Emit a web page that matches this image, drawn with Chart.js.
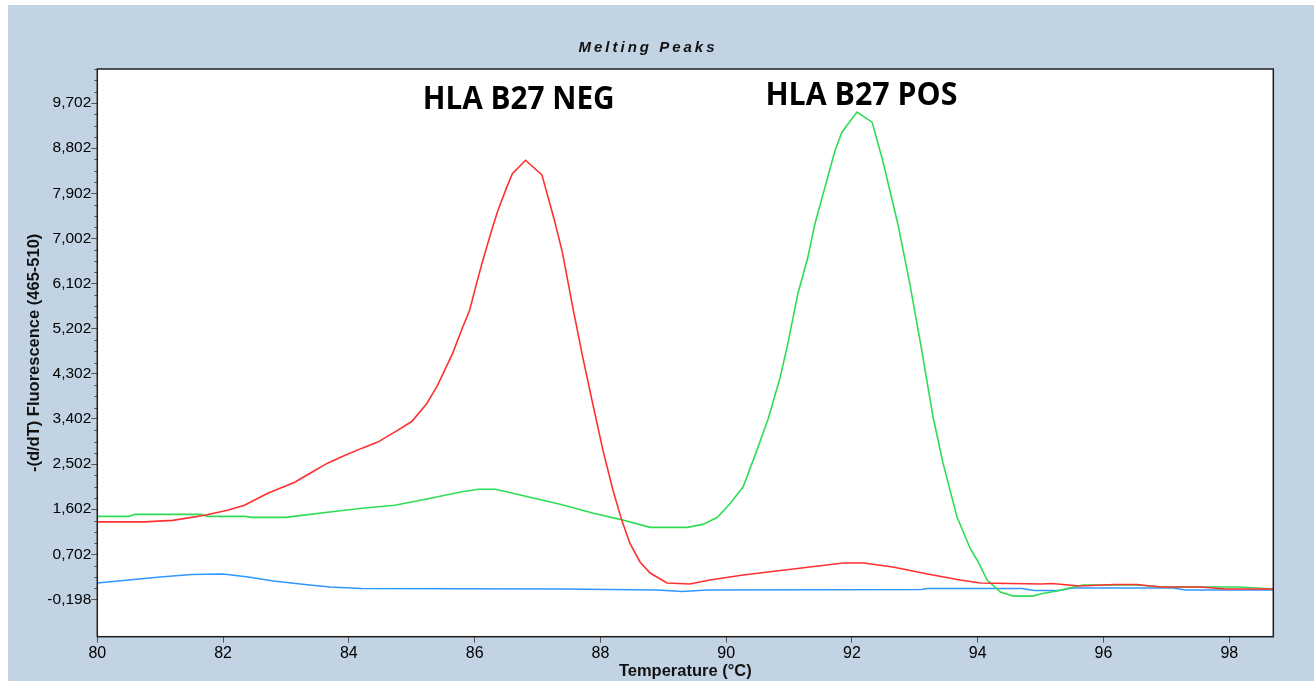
<!DOCTYPE html>
<html>
<head>
<meta charset="utf-8">
<script src="https://cdn.jsdelivr.net/npm/chart.js@4.4.1/dist/chart.umd.min.js"></script>
<style>
  html, body { margin: 0; padding: 0; background: #fff; }
  #panel { position: absolute; left: 8px; top: 5px; width: 1306px; height: 676px; background: #c2d4e4; }
  #wrap { position: absolute; left: 0; top: 0; width: 1314px; height: 681px; }
</style>
</head>
<body>
<div id="panel"></div>
<div id="wrap"><canvas id="myChart" width="1314" height="681"></canvas></div>
<script>
// melting curves (temperature in °C, -(d/dT) fluorescence)
const redTemps = [80.0, 80.75, 81.2, 81.71, 82.07, 82.34, 82.71, 83.14, 83.41, 83.66, 83.94, 84.21, 84.46, 84.78, 85.0, 85.24, 85.41, 85.65, 85.81, 85.92, 86.03, 86.13, 86.27, 86.37, 86.51, 86.6, 86.81, 87.07, 87.27, 87.4, 87.56, 87.72, 87.86, 88.04, 88.2, 88.34, 88.47, 88.63, 88.79, 89.06, 89.42, 89.74, 90.27, 90.8, 91.33, 91.86, 92.18, 92.65, 93.2, 93.72, 94.04, 95.0, 95.18, 95.62, 96.18, 96.53, 96.9, 97.54, 97.94, 98.7];
const redValues = [1.35, 1.35, 1.38, 1.48, 1.58, 1.68, 1.92, 2.14, 2.34, 2.52, 2.68, 2.82, 2.94, 3.18, 3.35, 3.71, 4.07, 4.71, 5.23, 5.57, 6.10, 6.56, 7.16, 7.56, 8.02, 8.29, 8.56, 8.27, 7.36, 6.70, 5.63, 4.63, 3.81, 2.78, 1.98, 1.38, 0.92, 0.55, 0.33, 0.13, 0.11, 0.19, 0.29, 0.37, 0.45, 0.53, 0.53, 0.45, 0.31, 0.19, 0.13, 0.11, 0.12, 0.07, 0.10, 0.10, 0.05, 0.05, 0.01, 0.01];

const greenTemps = [80.0, 80.5, 80.6, 81.65, 81.75, 82.35, 82.45, 83.0, 83.25, 83.66, 84.21, 84.73, 85.26, 85.8, 86.06, 86.33, 86.88, 87.36, 87.89, 88.31, 88.79, 89.38, 89.63, 89.86, 90.06, 90.27, 90.46, 90.67, 90.86, 90.98, 91.14, 91.3, 91.41, 91.57, 91.73, 91.84, 92.08, 92.32, 92.49, 92.73, 92.92, 93.11, 93.29, 93.45, 93.67, 93.88, 93.99, 94.15, 94.36, 94.57, 94.87, 95.03, 95.26, 95.42, 95.67, 96.53, 96.74, 97.0, 98.14, 98.7];
const greenValues = [1.46, 1.46, 1.50, 1.50, 1.46, 1.46, 1.44, 1.44, 1.48, 1.54, 1.62, 1.68, 1.81, 1.95, 2.00, 2.00, 1.84, 1.70, 1.52, 1.40, 1.24, 1.24, 1.30, 1.44, 1.71, 2.05, 2.68, 3.41, 4.24, 4.90, 5.90, 6.63, 7.29, 8.02, 8.75, 9.12, 9.52, 9.32, 8.55, 7.29, 6.10, 4.77, 3.44, 2.51, 1.45, 0.82, 0.59, 0.19, -0.05, -0.13, -0.13, -0.08, -0.03, 0.02, 0.09, 0.09, 0.07, 0.05, 0.05, 0.01];

const blueTemps = [80.0, 80.5, 81.0, 81.5, 82.0, 82.4, 82.8, 83.3, 83.7, 84.2, 87.4, 88.9, 89.3, 89.7, 93.1, 93.2, 94.7, 94.9, 95.3, 95.5, 97.1, 97.3, 98.7];
const blueValues = [0.13, 0.19, 0.25, 0.30, 0.31, 0.25, 0.17, 0.10, 0.05, 0.02, 0.01, -0.01, -0.04, -0.01, 0.0, 0.02, 0.02, -0.02, -0.02, 0.03, 0.03, -0.01, -0.01];

const xTickValues = [80, 82, 84, 86, 88, 90, 92, 94, 96, 98];
const yTickValues = [-0.198, 0.702, 1.602, 2.502, 3.402, 4.302, 5.202, 6.102, 7.002, 7.902, 8.802, 9.702];

const annotationLabels = ["HLA B27 NEG", "HLA B27 POS"];
const annotationTemps = [86.70, 92.15];
const annotationValues = [9.58, 9.66];

const fontFamily = "'Liberation Sans', Arial, sans-serif";

function toPoints(temps, values) {
  return temps.map((t, i) => ({ x: t, y: values[i] }));
}

const framePlugin = {
  id: "frame",
  beforeDraw(chart) {
    const { ctx, chartArea: a } = chart;
    ctx.save();
    ctx.fillStyle = "#ffffff";
    ctx.fillRect(a.left, a.top, a.right - a.left, a.bottom - a.top);
    ctx.restore();
  },
  afterDraw(chart) {
    const { ctx, chartArea: a, scales } = chart;
    ctx.save();

    // minor ticks on the y axis, 3 between each labelled tick
    ctx.strokeStyle = "#555";
    ctx.lineWidth = 1;
    const step = (yTickValues[1] - yTickValues[0]) / 4;
    for (let i = 1; yTickValues[0] + i * step < scales.y.max; i++) {
      if (i % 4 === 0) continue;
      const py = Math.round(scales.y.getPixelForValue(yTickValues[0] + i * step)) + 0.5;
      ctx.beginPath();
      ctx.moveTo(a.left - 3, py);
      ctx.lineTo(a.left, py);
      ctx.stroke();
    }

    // plot frame
    ctx.strokeStyle = "#1e1e1e";
    ctx.lineWidth = 1.5;
    ctx.strokeRect(a.left, a.top, a.right - a.left, a.bottom - a.top);

    // header
    ctx.fillStyle = "#111";
    ctx.font = "italic bold 15px " + fontFamily;
    ctx.letterSpacing = "3px";
    ctx.textAlign = "center";
    ctx.textBaseline = "middle";
    ctx.fillText("Melting Peaks", 648, 48);
    ctx.letterSpacing = "0px";

    // peak labels
    ctx.fillStyle = "#000";
    ctx.font = "bold 33px 'Open Sans', sans-serif";
    ctx.textBaseline = "alphabetic";
    annotationLabels.forEach((label, i) => {
      const px = scales.x.getPixelForValue(annotationTemps[i]);
      const py = scales.y.getPixelForValue(annotationValues[i]);
      const w = ctx.measureText(label).width;
      ctx.save();
      ctx.translate(px, py);
      ctx.scale(192 / w, 1);
      ctx.fillText(label, 0, 0);
      ctx.restore();
    });

    ctx.restore();
  },
};

const ctx = document.getElementById("myChart").getContext("2d");
new Chart(ctx, {
  type: "line",
  data: {
    datasets: [
      {
        label: "HLA B27 NEG",
        data: toPoints(redTemps, redValues),
        borderColor: "#ff3030",
        borderWidth: 1.6,
      },
      {
        label: "HLA B27 POS",
        data: toPoints(greenTemps, greenValues),
        borderColor: "#2fdc55",
        borderWidth: 1.6,
      },
      {
        label: "Blank",
        data: toPoints(blueTemps, blueValues),
        borderColor: "#2f97ff",
        borderWidth: 1.6,
      },
    ],
  },
  options: {
    responsive: false,
    animation: false,
    elements: { point: { radius: 0 }, line: { tension: 0, fill: false } },
    layout: { padding: { top: 69, right: 40.7, bottom: 0, left: 0 } },
    plugins: { legend: { display: false }, tooltip: { enabled: false }, title: { display: false } },
    scales: {
      x: {
        type: "linear",
        min: 80,
        max: 98.7,
        afterBuildTicks: (s) => { s.ticks = xTickValues.map((v) => ({ value: v })); },
        afterFit: (s) => { s.height = 44.3; },
        grid: { drawOnChartArea: false, drawTicks: true, tickLength: 6, tickColor: "#555", tickWidth: 1 },
        border: { display: false },
        ticks: {
          color: "#000",
          font: { family: fontFamily, size: 16 },
          padding: 1,
          maxRotation: 0,
          autoSkip: false,
          callback: (v) => String(v),
        },
        title: {
          display: true,
          text: "Temperature (°C)",
          color: "#111",
          font: { family: fontFamily, size: 16.5, weight: "bold" },
          padding: { top: 0, bottom: 0 },
        },
      },
      y: {
        type: "linear",
        min: -0.94,
        max: 10.38,
        afterBuildTicks: (s) => { s.ticks = yTickValues.map((v) => ({ value: v })); },
        afterFit: (s) => { s.width = 97.3; },
        grid: { drawOnChartArea: false, drawTicks: true, tickLength: 6, tickColor: "#555", tickWidth: 1 },
        border: { display: false },
        ticks: {
          color: "#000",
          font: { family: fontFamily, size: 15.5 },
          padding: 0,
          autoSkip: false,
          callback: (v) => v.toFixed(3).replace(".", ","),
        },
        title: {
          display: true,
          text: "-(d/dT) Fluorescence (465-510)",
          color: "#111",
          font: { family: fontFamily, size: 16.5, weight: "bold" },
          padding: { top: 25, bottom: 0 },
        },
      },
    },
  },
  plugins: [framePlugin],
});
</script>
</body>
</html>
